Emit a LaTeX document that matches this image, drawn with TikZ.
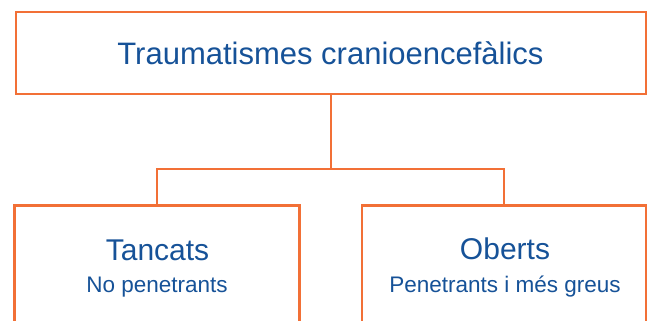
\documentclass[tikz,border=0pt]{standalone}
\usepackage{fontspec}
\setmainfont{Liberation Sans}
\definecolor{bordeorange}{RGB}{242,112,54}
\definecolor{textblue}{RGB}{22,82,152}
\tikzset{
  box/.style={draw=bordeorange, line width=2.8pt, fill=white, rectangle, inner sep=0pt},
  conn/.style={draw=bordeorange, line width=2.8pt},
  titletext/.style={text=textblue, font=\fontsize{31}{36}\selectfont, inner sep=0pt, anchor=base},
  bigtext/.style={text=textblue, font=\fontsize{30}{34}\selectfont, inner sep=0pt, anchor=base},
  smalltext/.style={text=textblue, font=\fontsize{22.5}{26}\selectfont, inner sep=0pt, anchor=base},
}
\begin{document}
\begin{tikzpicture}[x=1pt,y=-1pt]
\useasboundingbox (0,0) rectangle (648,321);
\clip (0,0) rectangle (648,321);
\node[box, minimum width=630pt, minimum height=82pt] (top) at (331,53) {};
\node[box, minimum width=285pt, minimum height=160pt, anchor=north] (left) at (157,204) {};
\node[box, minimum width=284pt, minimum height=160pt, anchor=north] (right) at (504,204) {};
\coordinate (junction) at (331,169);
\draw[conn] (top.south) -- (junction);
\draw[conn] (junction) -| (left.north);
\draw[conn] (junction) -| (right.north);
\node[titletext] (title) at (330.5,64) {Traumatismes cranioencefàlics};
\node[bigtext] (tancats) at (157.5,260) {Tancats};
\node[smalltext] (nopen) at (157,292) {No penetrants};
\node[bigtext] (oberts) at (505,259) {Oberts};
\node[smalltext] (pen) at (505,292) {Penetrants i més greus};
\end{tikzpicture}
\end{document}
